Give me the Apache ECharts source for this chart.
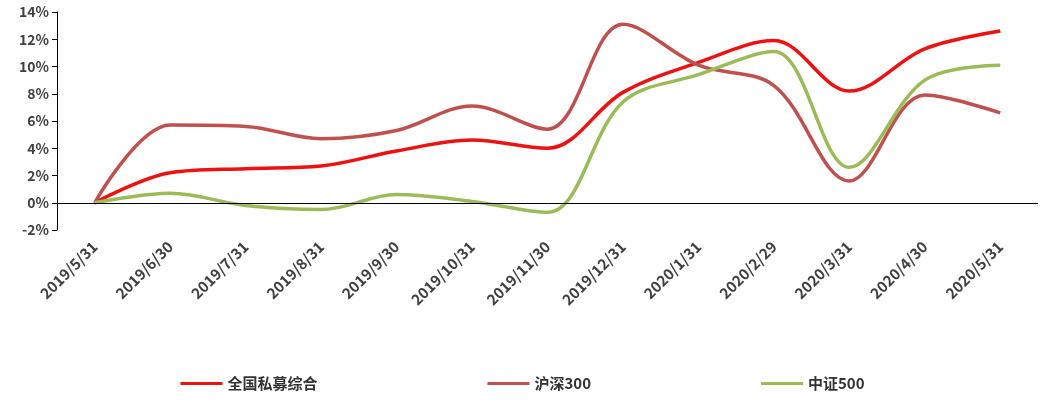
<!DOCTYPE html>
<html><head><meta charset="utf-8">
<script src="https://cdn.jsdelivr.net/npm/echarts@6/dist/echarts.min.js"></script>
<style>html,body{margin:0;padding:0;background:#fff}#c{width:1045px;height:402px}</style>
</head><body><div id="c"></div>
<script>
const categories=['2019/5/31','2019/6/30','2019/7/31','2019/8/31','2019/9/30','2019/10/31','2019/11/30','2019/12/31','2020/1/31','2020/2/29','2020/3/31','2020/4/30','2020/5/31'];
const privateFund=[0,2.2,2.5,2.7,3.8,4.6,4.0,8.1,10.3,11.9,8.2,11.3,12.6];
const hs300=[0,5.7,5.6,4.7,5.3,7.1,5.4,13.1,10.1,8.6,1.6,7.9,6.6];
const zz500=[0,0.7,-0.2,-0.5,0.6,0.1,-0.7,7.4,9.4,11.1,2.6,9.0,10.1];
const yTicks={min:-2,max:14,interval:2};
const font='"Noto Sans CJK SC", sans-serif';
const chart=echarts.init(document.getElementById('c'));
const mk=(name,data,color)=>({name,type:'line',data,smooth:0.35,symbol:'none',lineStyle:{color,width:3.5},itemStyle:{color}});
const s1=mk('全国私募综合',privateFund,'#ee1111');
s1.markLine={silent:true,symbol:'none',label:{show:false},lineStyle:{color:'#000',width:1,type:'solid'},data:[{yAxis:0}]};
chart.setOption({
 animation:false,
 grid:{left:57,right:7,top:12,bottom:172},
 legend:{bottom:6,itemWidth:42,itemHeight:3,itemGap:170,icon:'rect',textStyle:{fontFamily:font,fontWeight:'bold',fontSize:15,color:'#333'}},
 xAxis:{type:'category',data:categories,boundaryGap:true,axisLine:{show:false},axisTick:{show:false},
  axisLabel:{rotate:45,fontFamily:font,fontWeight:'bold',fontSize:15,color:'#404040',interval:0,margin:14}},
 yAxis:{type:'value',...yTicks,splitLine:{show:false},axisLine:{show:true,lineStyle:{color:'#000'}},axisTick:{show:true,lineStyle:{color:'#000'}},
  axisLabel:{formatter:'{value}%',fontFamily:font,fontWeight:'bold',fontSize:14,color:'#404040'}},
 series:[s1,mk('沪深300',hs300,'#c0504d'),mk('中证500',zz500,'#9bbb59')]
});
</script></body></html>
